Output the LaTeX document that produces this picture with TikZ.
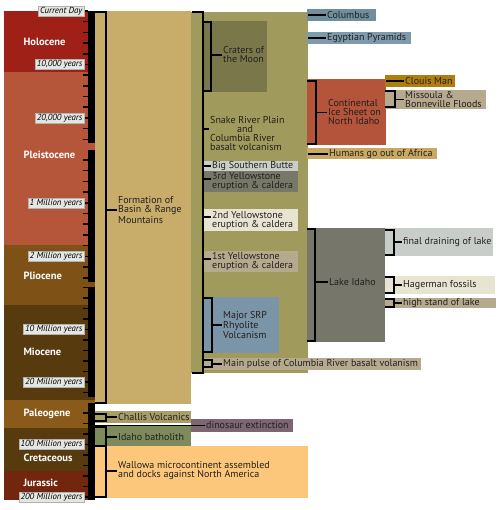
\documentclass[tikz,border=0pt]{standalone}
\usepackage{fontspec}
\setmainfont{PT Sans}
\usetikzlibrary{shadows}
\definecolor{holo}{HTML}{9E2016}
\definecolor{pleist}{HTML}{B5553A}
\definecolor{plio}{HTML}{7E5217}
\definecolor{mio}{HTML}{583A0F}
\definecolor{paleo}{HTML}{8A5A1A}
\definecolor{jura}{HTML}{73260E}
\definecolor{scalegray}{HTML}{E4E6E2}
\definecolor{txt}{HTML}{231F20}
\definecolor{basintan}{HTML}{C8AC6A}
\definecolor{srpolive}{HTML}{A09A5C}
\definecolor{crater}{HTML}{7A784A}
\definecolor{butte}{HTML}{C9CEC8}
\definecolor{ysgray}{HTML}{777868}
\definecolor{ltcream}{HTML}{E7E4D2}
\definecolor{greytan}{HTML}{B6AA8E}
\definecolor{bluegray}{HTML}{7A95A8}
\definecolor{columbusblue}{HTML}{6F8F9B}
\definecolor{egyptblue}{HTML}{7E9AAD}
\definecolor{icesheet}{HTML}{B4543A}
\definecolor{clovisgold}{HTML}{B07E0E}
\definecolor{humantan}{HTML}{C9A962}
\definecolor{lakegray}{HTML}{76776A}
\definecolor{draingray}{HTML}{C9CDC9}
\definecolor{challistan}{HTML}{A89F68}
\definecolor{dinomauve}{HTML}{7D6572}
\definecolor{batholithgreen}{HTML}{7D8A5B}
\definecolor{wallowaorange}{HTML}{FCC77B}

\begin{document}
\begin{tikzpicture}[x=1pt,y=-1pt,
    era/.style={anchor=west,text=white,font=\bfseries\fontsize{10.5}{11}\selectfont},
    agebox/.style={anchor=east,fill=scalegray,draw=gray!60,line width=0.4pt,
      inner xsep=1.5pt,inner ysep=1pt,font=\itshape\fontsize{8.8}{9}\selectfont,
      drop shadow={opacity=0.35,shadow xshift=0.8pt,shadow yshift=-0.8pt}},
    lbl/.style={anchor=west,inner sep=1pt,align=left,text=txt,font=\fontsize{10}{9}\selectfont},
    brk/.style={line width=1.8pt},
    tk/.style={line width=1.6pt}]
    \useasboundingbox (0,0) rectangle (500,510);

    % eras
    \fill[holo] (4,11) rectangle (95,72);
    \fill[pleist] (4,72) rectangle (95,245);
    \fill[plio] (4,245) rectangle (95,305);
    \fill[mio] (4,305) rectangle (95,400);
    \fill[paleo] (4,400) rectangle (95,428);
    \fill[mio] (4,428) rectangle (95,471);
    \fill[jura] (4,471) rectangle (95,500);
    \node[era] (holocene) at (20,42) {Holocene};
    \node[era] (pleistocene) at (20,155) {Pleistocene};
    \node[era] (pliocene) at (20,276) {Pliocene};
    \node[era] (miocene) at (20,352) {Miocene};
    \node[era] (paleogene) at (20,414) {Paleogene};
    \node[era] (cretaceous) at (20,458) {Cretaceous};
    \node[era] (jurassic) at (20,483) {Jurassic};

    % time scale
    \fill (88,11) rectangle (95,143);
    \fill (88,150) rectangle (95,282);
    \fill (88,287) rectangle (95,397);
    \fill (88,403) rectangle (95,500);
    \foreach \y in {11,21.7,...,141} \draw[tk] (83,\y) -- (88,\y);
    \foreach \y in {160,170.7,...,280} \draw[tk] (83,\y) -- (88,\y);
    \foreach \y in {287.5,298,...,395} \draw[tk] (83,\y) -- (88,\y);
    \foreach \y in {413,423.5,...,498} \draw[tk] (83,\y) -- (88,\y);
    \node[agebox] (now) at (84,11) {Current Day};
    \node[agebox] (tenk) at (84,64.5) {10,000 years};
    \node[agebox] (twentyk) at (84,118) {20,000 years};
    \node[agebox] (onem) at (84,202.8) {1 Million years};
    \node[agebox] (twom) at (84,256.3) {2 Million years};
    \node[agebox] (tenm) at (84,329.5) {10 Million years};
    \node[agebox] (twentym) at (84,382) {20 Million years};
    \node[agebox] (hundredm) at (84,444.5) {100 Million years};
    \node[agebox] (twohundredm) at (84,497) {200 Million years};

    % boxes
    \fill[basintan] (95,11) rectangle (191,404);
    \fill[srpolive] (191,12) rectangle (308,373);
    \fill[crater] (203,21) rectangle (267,92);
    \fill[butte] (203,161) rectangle (298,171);
    \fill[ysgray] (203,171) rectangle (298,192);
    \fill[ltcream] (203,209) rectangle (298,231);
    \fill[greytan] (203,251) rectangle (298,272);
    \fill[bluegray] (203,297) rectangle (279,353);
    \fill[greytan] (203,358) rectangle (421,370);
    \fill[columbusblue] (307,9) rectangle (376,21);
    \fill[egyptblue] (307,32) rectangle (411,44);
    \fill[icesheet] (307,79) rectangle (386,145);
    \fill[clovisgold] (385,75) rectangle (455,87);
    \fill[greytan] (385,90) rectangle (486,109);
    \fill[humantan] (307,148) rectangle (437,159);
    \fill[lakegray] (307,228) rectangle (385,342);
    \fill[draingray] (385,228) rectangle (493,256);
    \fill[ltcream] (385,276) rectangle (495,294);
    \fill[greytan] (385,298) rectangle (496,308);
    \fill[challistan] (95,411) rectangle (191,423);
    \fill[dinomauve] (191,419) rectangle (293,432);
    \fill[batholithgreen] (95,426) rectangle (191,447);
    \fill[wallowaorange] (95,446) rectangle (308,498);

    % brackets
    \draw[brk] (95,12) -- (106,12) -- (106,403) -- (95,403);
    \draw[brk] (192,12) -- (203,12) -- (203,373) -- (192,373);
    \draw[brk] (203,22) -- (211,22) -- (211,91) -- (203,91);
    \draw[brk] (203,298) -- (212,298) -- (212,352) -- (203,352);
    \draw[brk] (203,360) -- (212,360) -- (212,367) -- (203,367);
    \draw[brk] (307,81) -- (316,81) -- (316,144) -- (307,144);
    \draw[brk] (385,91) -- (395,91) -- (395,107) -- (385,107);
    \draw[brk] (307,229) -- (315,229) -- (315,341) -- (307,341);
    \draw[brk] (385,230) -- (394,230) -- (394,255) -- (385,255);
    \draw[brk] (385,277) -- (394,277) -- (394,293) -- (385,293);
    \draw[brk] (385,299) -- (394,299) -- (394,307) -- (385,307);
    \draw[brk] (95,414) -- (106,414) -- (106,421) -- (95,421);
    \draw[brk] (95,427) -- (106,427) -- (106,497) -- (95,497);
    \draw[brk] (95,446) -- (106,446);

    % labels
    \node[lbl] (basinrange) at (117,210) {Formation of\\Basin \& Range\\Mountains};
    \node[lbl] (snakeriver) at (209,133.5) {Snake River Plain\\\hspace*{27pt}and\\Columbia River\\basalt volcanism};
    \node[lbl] (craters) at (222,55) {Craters of\\the Moon};
    \node[lbl] (bigbutte) at (211,166) {Big Southern Butte};
    \node[lbl] (third) at (211,181.5) {3rd Yellowstone\\eruption \& caldera};
    \node[lbl] (second) at (211,220) {2nd Yellowstone\\eruption \& caldera};
    \node[lbl] (first) at (211,261.5) {1st Yellowstone\\eruption \& caldera};
    \node[lbl] (rhyolite) at (222,325) {Major SRP\\Rhyolite\\Volcanism};
    \node[lbl] (mainpulse) at (222,364) {Main pulse of Columbia River basalt volanism};
    \node[lbl] (columbus) at (326,15) {Columbus};
    \node[lbl] (pyramids) at (326,38) {Egyptian Pyramids};
    \node[lbl] (ice) at (327,112.5) {Continental\\Ice Sheet on\\North Idaho};
    \node[lbl] (clovisman) at (404,81) {Clouis Man};
    \node[lbl] (floods) at (404,99.5) {Missoula \&\\Bonneville Floods};
    \node[lbl] (africa) at (328,154) {Humans go out of Africa};
    \node[lbl] (lakeidaho) at (328,282) {Lake Idaho};
    \node[lbl] (draining) at (402,242) {final draining of lake};
    \node[lbl] (hagerman) at (402,285) {Hagerman fossils};
    \node[lbl] (highstand) at (402,303) {high stand of lake};
    \node[lbl] (challisv) at (117,417) {Challis Volcanics};
    \node[lbl] (extinction) at (205,425.5) {dinosaur extinction};
    \node[lbl] (idaho) at (117,437) {Idaho batholith};
    \node[lbl] (wallowam) at (117,471) {Wallowa microcontinent assembled\\and docks against North America};

    % ticks
    \draw[tk] (106,210) -- (basinrange.west);
    \draw[tk] (203,129) -- (209,129);
    \draw[tk] (211,55) -- (craters.west);
    \draw[tk] (203,166) -- (bigbutte.west);
    \draw[tk] (203,179) -- (211,179);
    \draw[tk] (203,217) -- (211,217);
    \draw[tk] (203,259) -- (211,259);
    \draw[tk] (212,325) -- (rhyolite.west);
    \draw[tk] (212,364) -- (mainpulse.west);
    \draw[tk] (308,15) -- (columbus.west);
    \draw[tk] (308,38) -- (pyramids.west);
    \draw[tk] (316,112.5) -- (ice.west);
    \draw[tk] (386,81) -- (clovisman.west);
    \draw[tk] (395,99.5) -- (floods.west);
    \draw[tk] (308,154) -- (africa.west);
    \draw[tk] (315,282) -- (lakeidaho.west);
    \draw[tk] (394,242) -- (draining.west);
    \draw[tk] (394,285) -- (hagerman.west);
    \draw[tk] (394,303) -- (highstand.west);
    \draw[tk] (106,417) -- (challisv.west);
    \draw[tk] (95,425.5) -- (extinction.west);
    \draw[tk] (106,437) -- (idaho.west);
    \draw[tk] (106,471) -- (wallowam.west);
\end{tikzpicture}
\end{document}
